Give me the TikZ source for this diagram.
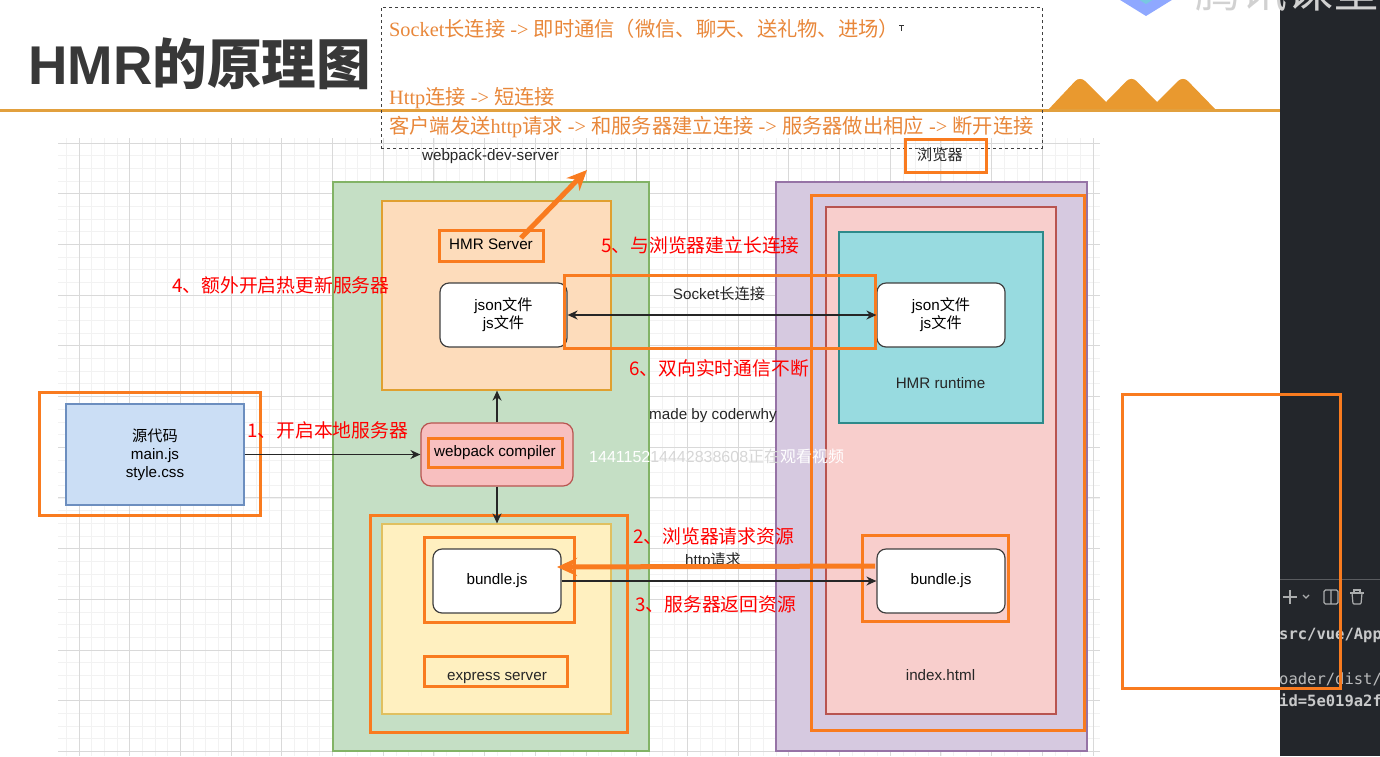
\documentclass[tikz,border=0pt]{standalone}
\usepackage{fontspec}
\setmainfont{Liberation Sans}
\newfontfamily\cjk{Noto Sans CJK SC}
\newfontfamily\seriffont{Liberation Serif}
\newfontfamily\termfont{DejaVu Sans Mono}
\usetikzlibrary{arrows.meta, positioning}
\definecolor{hlOrange}{RGB}{249, 123, 31}
\definecolor{headOrange}{RGB}{226, 160, 62}
\definecolor{peakOrange}{RGB}{233, 153, 47}
\definecolor{noteOrange}{RGB}{232, 135, 58}
\definecolor{termDark}{RGB}{35, 38, 43}
\definecolor{logoBlue}{RGB}{143, 168, 255}
\definecolor{logoTeal}{RGB}{120, 200, 225}
\definecolor{serverFill}{RGB}{197, 223, 197}
\definecolor{serverEdge}{RGB}{130, 179, 102}
\definecolor{hmrFill}{RGB}{253, 220, 187}
\definecolor{hmrEdge}{RGB}{224, 160, 48}
\definecolor{yellowFill}{RGB}{255, 240, 192}
\definecolor{yellowEdge}{RGB}{224, 192, 96}
\definecolor{compilerFill}{RGB}{248, 191, 191}
\definecolor{redEdge}{RGB}{184, 84, 80}
\definecolor{browserFill}{RGB}{214, 201, 224}
\definecolor{browserEdge}{RGB}{150, 115, 166}
\definecolor{htmlFill}{RGB}{248, 206, 204}
\definecolor{runtimeFill}{RGB}{152, 219, 224}
\definecolor{runtimeEdge}{RGB}{46, 138, 138}
\definecolor{sourceFill}{RGB}{203, 222, 245}
\definecolor{sourceEdge}{RGB}{108, 142, 191}
\newcommand{\fsz}[1]{\fontsize{#1}{\fpeval{#1*1.2}}\selectfont}
\tikzset{
    panel/.style 2 args={draw, line width=1.2pt, minimum width=#1, minimum height=#2, inner sep=0pt},
    card/.style 2 args={panel={#1}{#2}, draw=black!75, fill=white, rounded corners=9pt, font=\fsz{15.2}, align=center},
    mark box/.style 2 args={draw=hlOrange, line width=3pt, minimum width=#1, minimum height=#2, inner sep=0pt, font=\fsz{15.2}, text height=11pt, text depth=3pt},
    plain/.style={inner sep=0pt, font=\fsz{15.2}, text=black!85, text height=11pt, text depth=3pt},
    redlabel/.style={inner sep=0pt, anchor=west, text=red, font=\fsz{18.8}\cjk},
    note/.style={inner sep=0pt, anchor=west, text=noteOrange, font=\fsz{20.3}\seriffont},
    link/.style={line width=1.6pt, black!85, -{Stealth[length=10pt,width=9pt]}},
    bold link/.style={line width=5pt, hlOrange, -{Stealth[length=20pt,width=18pt]}},
    grid minor/.style={black!5, line width=.7pt},
    grid major/.style={black!15, line width=1pt}
}

\begin{document}
\begin{tikzpicture}[x=1pt,y=-1pt]
    \useasboundingbox (0,0) rectangle (1380,756);
    \clip (0,0) rectangle (1380,756);

    % Background grid
    \foreach \i in {0,...,81} {
        \draw[grid minor] ({66.3+12.675*\i},138) -- ({66.3+12.675*\i},756);
    }
    \foreach \i in {0,...,48} {
        \draw[grid minor] (58,{143+12.675*\i}) -- (1100,{143+12.675*\i});
    }
    \foreach \i in {0,...,20} {
        \draw[grid major] ({79+50.7*\i},138) -- ({79+50.7*\i},756);
    }
    \foreach \i in {0,...,12} {
        \draw[grid major] (58,{143+50.7*\i}) -- (1100,{143+50.7*\i});
    }

    % Header
    \fill[peakOrange] (1047,111) [rounded corners=7pt] -- (1080,76) [sharp corners] -- (1106,102)
        [rounded corners=7pt] -- (1131.5,76) [sharp corners] -- (1157,102)
        [rounded corners=7pt] -- (1183,76) [sharp corners] -- (1217,111) -- cycle;
    \draw[headOrange, line width=3pt] (0,110.5) -- (1280,110.5);
    \node[inner sep=0pt, anchor=west, text=black!78] (title) at (28,64)
        {\fsz{54.6}\bfseries HMR{\cjk\bfseries 的原理图}};

    % Terminal side and logo
    \fill[termDark] (1280,0) rectangle (1380,756);
    \fill[logoBlue] (1104,-10) -- (1146,16) -- (1188,-10) -- cycle;
    \fill[logoTeal] (1130,-6) -- (1146,4) -- (1162,-6) -- cycle;
    \node[inner sep=0pt, text=black!18] (logo) at (1287,-10) {\fsz{46}\cjk 腾讯课堂};
    \draw[white!25!termDark, line width=.8pt] (1280,579) -- (1380,579);
    \begin{scope}[white!62!termDark, line width=1.2pt]
        \draw (1283,597) -- (1297,597) (1290,590) -- (1290,604);
        \draw (1303,595) -- (1306,598) -- (1309,595);
        \draw[rounded corners=1.5pt] (1324,590) rectangle (1338,604) (1331,590) -- (1331,604);
        \draw (1350,593) -- (1364,593) (1354,593) -- (1354,590) -- (1360,590) -- (1360,593);
        \draw[rounded corners=1pt] (1352,593) -- (1353,604) -- (1361,604) -- (1362,593);
    \end{scope}
    \begin{scope}
        \clip (1280,560) rectangle (1380,720);
        \node[inner sep=0pt, anchor=west, text=white!75!termDark] (pathone) at (1279,635) {\fsz{15.5}\termfont\bfseries src/vue/App};
        \node[inner sep=0pt, anchor=west, text=white!68!termDark] (pathtwo) at (1279,679) {\fsz{15.5}\termfont oader/dist/};
        \node[inner sep=0pt, anchor=west, text=white!75!termDark] (pathid) at (1279,700) {\fsz{15.5}\termfont\bfseries id=5e019a2f};
    \end{scope}

    % Dashed note box
    \node[draw=black!75, dashed, line width=.7pt, minimum width=661, minimum height=141, inner sep=0pt] (notebox) at (711.5,77.5) {};
    \node[note] (noteone) at (389,29) {Socket{\cjk 长连接} -> {\cjk 即时通信（微信、聊天、送礼物、进场）}};
    \node[note] (notetwo) at (389,98) {Http{\cjk 连接} -> {\cjk 短连接}};
    \node[note] (notethree) at (389,127) {{\cjk 客户端发送}http{\cjk 请求} -> {\cjk 和服务器建立连接} -> {\cjk 服务器做出相应} -> {\cjk 断开连接}};
    \draw[black!80, line width=.6pt] (899,25) -- (904,25) (901.5,25) -- (901.5,31);

    % Server side
    \node[panel={316}{569}, draw=serverEdge, fill=serverFill] (server) at (491,466.5) {};
    \node[panel={229}{189}, draw=hmrEdge, fill=hmrFill] (hmrarea) at (496.5,295.5) {};
    \node[panel={229}{190}, draw=yellowEdge, fill=yellowFill] (expressarea) at (496.5,619) {};
    \node[panel={152}{63}, draw=redEdge, fill=compilerFill, rounded corners=10pt] (compiler) at (497,454.5) {};
    \node[card={127}{64}] (jsonleft) at (503.5,315) {json{\cjk 文件}\\js{\cjk 文件}};
    \node[card={128}{64}] (bundleleft) at (497,581) {bundle.js};

    % Browser side
    \node[panel={311}{569}, draw=browserEdge, fill=browserFill] (browser) at (931.5,466.5) {};
    \node[panel={230}{507}, draw=redEdge, fill=htmlFill] (htmlarea) at (941,460.5) {};
    \node[panel={204}{191}, draw=runtimeEdge, fill=runtimeFill] (runtimearea) at (941,327.5) {};
    \node[card={128}{64}] (jsonright) at (941,315) {json{\cjk 文件}\\js{\cjk 文件}};
    \node[card={128}{64}] (bundleright) at (941,581) {bundle.js};

    % Source
    \node[panel={178}{101}, draw=sourceEdge, fill=sourceFill, font=\fsz{15.2}, align=center] (source) at (155,454.5)
        {{\cjk 源代码}\\main.js\\style.css};

    % Plain labels
    \node[plain] (servertitle) at (490.5,156) {webpack-dev-server};
    \node[plain] (browsertitle) at (940,156) {\cjk 浏览器};
    \node[plain] (sockettext) at (719,295) {Socket{\cjk 长连接}};
    \node[plain] (madeby) at (713,415) {made by coderwhy};
    \node[plain] (httptext) at (713,561) {http{\cjk 请求}};
    \node[plain] (runtimetext) at (940.5,384) {HMR runtime};
    \node[plain] (indextext) at (940.5,676) {index.html};
    \node[plain] (expresstext) at (497,676) {express server};

    % Highlight boxes
    \node[mark box={221}{123}] (sourcemark) at (149.5,453.5) {};
    \node[mark box={104}{31}] (hmrmark) at (491,245.5) {HMR Server};
    \node[mark box={134}{29}] (compilermark) at (495,452.5) {webpack compiler};
    \node[mark box={257}{217}] (expressmark) at (498.5,623.5) {};
    \node[mark box={150}{85}] (bundlemark) at (499,579.5) {};
    \node[mark box={143}{30}] (servermark) at (495.5,671) {};
    \node[mark box={146}{86}] (bundlerightmark) at (935,578) {};
    \node[mark box={311}{73}] (socketmark) at (719.5,311.5) {};
    \node[mark box={273}{535}] (browsermark) at (947.5,462.5) {};
    \node[mark box={81}{33}] (titlemark) at (945.5,155.5) {};
    \node[mark box={218}{294}] (blankmark) at (1231,541) {};

    % Connectors
    \draw[link] (source.east) -- (compiler.west);
    \draw[link] (compiler.north) -- (compiler.north |- hmrarea.south);
    \draw[link] (compiler.south) -- (compiler.south |- expressarea.north);
    \draw[link, {Stealth[length=10pt,width=9pt]}-{Stealth[length=10pt,width=9pt]}] (jsonleft.east) -- (jsonright.west);
    \draw[link] (bundleleft.east) -- (bundleright.west);

    % Thick orange arrows
    \coordinate (requeststart) at (875,566);
    \coordinate (requestend) at (557,567);
    \coordinate (serverstart) at (521,238);
    \coordinate (serverend) at (587,170);
    \draw[bold link] (requeststart) -- (requestend);
    \draw[bold link] (serverstart) -- (serverend);

    % Red steps
    \node[redlabel] (stepone) at (247,430) {1、开启本地服务器};
    \node[redlabel] (steptwo) at (633,536) {2、浏览器请求资源};
    \node[redlabel] (stepthree) at (635,604) {3、服务器返回资源};
    \node[redlabel] (stepfour) at (172,285) {4、额外开启热更新服务器};
    \node[redlabel] (stepfive) at (601,245) {5、与浏览器建立长连接};
    \node[redlabel] (stepsix) at (629,368) {6、双向实时通信不断};

    % Watermark
    \node[inner sep=0pt, text=white, anchor=west] (watermark) at (589,456)
        {\fsz{16}1441152\textcolor{black!16}{14442838608{\cjk 正在}}{\cjk 观看视频}};
\end{tikzpicture}
\end{document}
